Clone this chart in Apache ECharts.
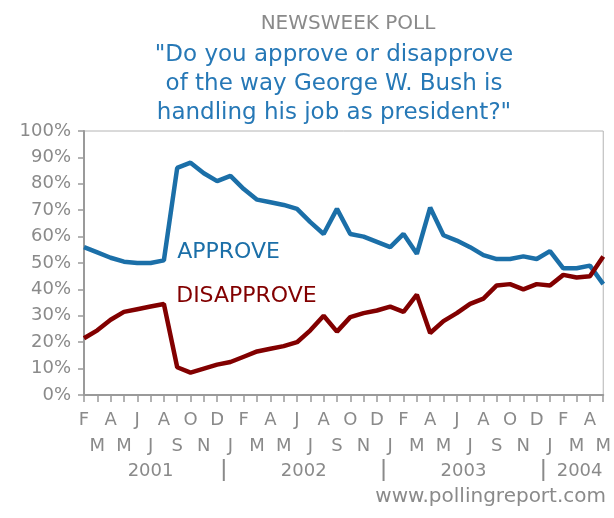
<!DOCTYPE html>
<html>
<head>
<meta charset="utf-8">
<script src="https://cdn.jsdelivr.net/npm/echarts@6/dist/echarts.min.js"></script>
<style>
  html, body { margin: 0; padding: 0; background: #fff; }
  #chart { width: 614px; height: 518px; }
</style>
</head>
<body>
<div id="chart"></div>
<script>
// months Feb 2001 .. May 2004
const months = [
  'Feb 2001', 'Mar 2001', 'Apr 2001', 'May 2001', 'Jun 2001', 'Jul 2001', 'Aug 2001', 'Sep 2001', 'Oct 2001', 'Nov 2001', 'Dec 2001',
  'Jan 2002', 'Feb 2002', 'Mar 2002', 'Apr 2002', 'May 2002', 'Jun 2002', 'Jul 2002', 'Aug 2002', 'Sep 2002', 'Oct 2002', 'Nov 2002', 'Dec 2002',
  'Jan 2003', 'Feb 2003', 'Mar 2003', 'Apr 2003', 'May 2003', 'Jun 2003', 'Jul 2003', 'Aug 2003', 'Sep 2003', 'Oct 2003', 'Nov 2003', 'Dec 2003',
  'Jan 2004', 'Feb 2004', 'Mar 2004', 'Apr 2004', 'May 2004'
]
const monthLetters = [
  'F', 'M', 'A', 'M', 'J', 'J', 'A', 'S', 'O', 'N', 'D',
  'J', 'F', 'M', 'A', 'M', 'J', 'J', 'A', 'S', 'O', 'N', 'D',
  'J', 'F', 'M', 'A', 'M', 'J', 'J', 'A', 'S', 'O', 'N', 'D',
  'J', 'F', 'M', 'A', 'M'
]
const approve = [
  56, 54, 52, 50.5, 50, 50, 51, 86, 88, 84, 81,
  83, 78, 74, 73, 72, 70.5, 65.5, 61, 70.5, 61, 60, 58,
  56, 61, 53.5, 71, 60.5, 58.5, 56, 53, 51.5, 51.5, 52.5, 51.5,
  54.5, 48, 48, 49, 42
]
const disapprove = [
  21.5, 24.5, 28.5, 31.5, 32.5, 33.5, 34.5, 10.5, 8.5, 10, 11.5,
  12.5, 14.5, 16.5, 17.5, 18.5, 20, 24.5, 30, 24, 29.5, 31, 32,
  33.5, 31.5, 38, 23.5, 28, 31, 34.5, 36.5, 41.5, 42, 40, 42,
  41.5, 45.5, 44.5, 45, 52.5
]
const yearLabels = ['2001', '2002', '2003', '2004']
const yearStart = [0, 11, 23, 35] // index of first month of each year

const BLUE = '#1b6fa8'
const RED = '#820000'
const GRAY = '#8a8a8a'
const FONT = 'DejaVu Sans'

const chart = echarts.init(document.getElementById('chart'))

chart.setOption({
  backgroundColor: '#fff',
  animation: false,
  grid: {
    left: 84, right: 10, top: 131, bottom: 123,
    show: true, borderColor: '#b4b4b4', borderWidth: 1
  },
  xAxis: {
    type: 'category',
    data: months,
    boundaryGap: false,
    axisLine: { lineStyle: { color: '#9a9a9a', width: 2 } },
    axisTick: { interval: 0, length: 7, lineStyle: { color: '#9a9a9a', width: 1.5 } },
    axisLabel: {
      interval: 0,
      margin: 12,
      color: GRAY,
      fontFamily: FONT,
      fontSize: 18,
      lineHeight: 26,
      formatter: (v, i) => (i % 2 === 0 ? monthLetters[i] : '\n' + monthLetters[i])
    },
    splitLine: { show: false }
  },
  yAxis: {
    type: 'value',
    min: 0, max: 100, interval: 10,
    axisLine: { show: true, lineStyle: { color: '#9a9a9a', width: 2 } },
    axisTick: { show: true, length: 6, lineStyle: { color: '#9a9a9a', width: 1.5 } },
    axisLabel: { formatter: '{value}%', color: GRAY, fontFamily: FONT, fontSize: 18, margin: 13 },
    splitLine: { show: false }
  },
  series: [
    {
      name: 'APPROVE', type: 'line', data: approve,
      symbol: 'none', lineStyle: { color: BLUE, width: 4.5 }, itemStyle: { color: BLUE }
    },
    {
      name: 'DISAPPROVE', type: 'line', data: disapprove,
      symbol: 'none', lineStyle: { color: RED, width: 4.5 }, itemStyle: { color: RED }
    }
  ]
})

// annotations placed via the chart's own scales
const px = (i, v) => chart.convertToPixel({ xAxisIndex: 0, yAxisIndex: 0 }, [i, v])
const x0 = px(0, 0)[0]
const step = (px(months.length - 1, 0)[0] - x0) / (months.length - 1)
const xAt = i => x0 + i * step
const yearY = 471

const graphics = [
  {
    type: 'text', x: 348, y: 24,
    style: { text: 'NEWSWEEK POLL', fill: GRAY, font: '20px ' + FONT, textAlign: 'center', textVerticalAlign: 'middle' }
  },
  {
    type: 'text', x: 334, y: 41,
    style: {
      text: '"Do you approve or disapprove\nof the way George W. Bush is\nhandling his job as president?"',
      fill: '#2678b6', font: '23px ' + FONT, lineHeight: 29, textAlign: 'center'
    }
  },
  {
    type: 'text', x: px(6.9, 0)[0] + 0, y: px(0, 54)[1],
    style: { text: 'APPROVE', fill: BLUE, font: '22px ' + FONT, textVerticalAlign: 'middle' }
  },
  {
    type: 'text', x: px(6.9, 0)[0] - 1, y: px(0, 37.5)[1],
    style: { text: 'DISAPPROVE', fill: RED, font: '22px ' + FONT, textVerticalAlign: 'middle' }
  },
  {
    type: 'text', x: 606, y: 497,
    style: { text: 'www.pollingreport.com', fill: GRAY, font: '20px ' + FONT, textAlign: 'right', textVerticalAlign: 'middle' }
  }
]

yearLabels.forEach((label, k) => {
  const first = yearStart[k]
  const last = k + 1 < yearStart.length ? yearStart[k + 1] - 1 : months.length - 1
  let cx = xAt((first + last) / 2)
  if (k === yearLabels.length - 1) cx += 3
  graphics.push({
    type: 'text', x: cx, y: yearY,
    style: { text: label, fill: GRAY, font: '18px ' + FONT, textAlign: 'center', textVerticalAlign: 'middle' }
  })
  if (k > 0) {
    const sx = xAt(first - 0.5)
    graphics.push({
      type: 'line',
      shape: { x1: sx, y1: 459, x2: sx, y2: 481 },
      style: { stroke: '#8a8a8a', lineWidth: 2 }
    })
  }
})

chart.setOption({ graphic: graphics })

window.addEventListener('resize', () => {
  chart.resize()
})
</script>
</body>
</html>
